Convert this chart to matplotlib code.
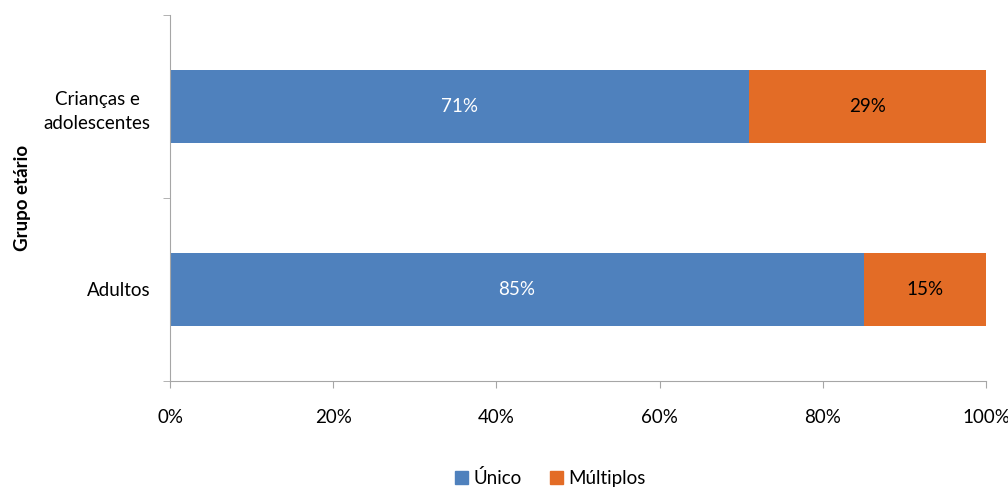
import numpy as np
import matplotlib.pyplot as plt
from matplotlib.patches import Patch

plt.rcParams['font.family'] = ['Lato', 'DejaVu Sans']

grupos = ['Adultos', 'Crianças e\nadolescentes']
unico = [85, 71]
multiplos = [15, 29]

cor_unico = '#4F81BD'
cor_mult = '#E36C26'
cinza = '#A6A6A6'
fs = 13.5

fig = plt.figure(figsize=(10.08, 4.87), dpi=100)
ax = fig.add_axes([0.1687, 0.2177, 0.8095, 0.7515])

y = np.arange(len(grupos))
u = np.array(unico) / 100
m = np.array(multiplos) / 100
ax.barh(y, u, height=0.4, color=cor_unico, edgecolor='none')
ax.barh(y, m, left=u, height=0.4, color=cor_mult, edgecolor='none')

for i in range(len(grupos)):
    ax.text(u[i] / 2, y[i], f'{unico[i]}%', ha='center', va='center',
            color='white', fontsize=fs)
    ax.text(u[i] + m[i] / 2, y[i], f'{multiplos[i]}%', ha='center', va='center',
            color='black', fontsize=fs)

ax.set_xlim(0, 1)
ax.set_ylim(-0.5, 1.5)
ax.set_xticks(np.linspace(0, 1, 6))
ax.set_xticklabels([f'{int(v)}%' for v in np.linspace(0, 100, 6)], fontsize=fs)
ax.set_yticks(y)
ax.set_yticklabels(grupos, fontsize=fs, ha='right', multialignment='center',
                   linespacing=1.5)
ax.set_yticks([-0.5, 0.5, 1.5], minor=True)

ax.tick_params(axis='y', which='major', length=0, pad=14)
ax.tick_params(axis='y', which='minor', length=5, color=cinza, direction='out')
ax.tick_params(axis='x', length=5, color=cinza, pad=15)

for s in ['top', 'right']:
    ax.spines[s].set_visible(False)
for s in ['left', 'bottom']:
    ax.spines[s].set_color(cinza)

ax.set_ylabel('Grupo etário', fontsize=fs, fontweight='bold', labelpad=9)

handles = [Patch(color=cor_unico, label='Único'), Patch(color=cor_mult, label='Múltiplos')]
fig.legend(handles=handles, loc='center', bbox_to_anchor=(0.546, 0.018), ncol=2,
           frameon=False, fontsize=fs, handlelength=0.7, handleheight=0.7,
           handletextpad=0.3, columnspacing=1.5)

fig.savefig('out.png', dpi=100)
